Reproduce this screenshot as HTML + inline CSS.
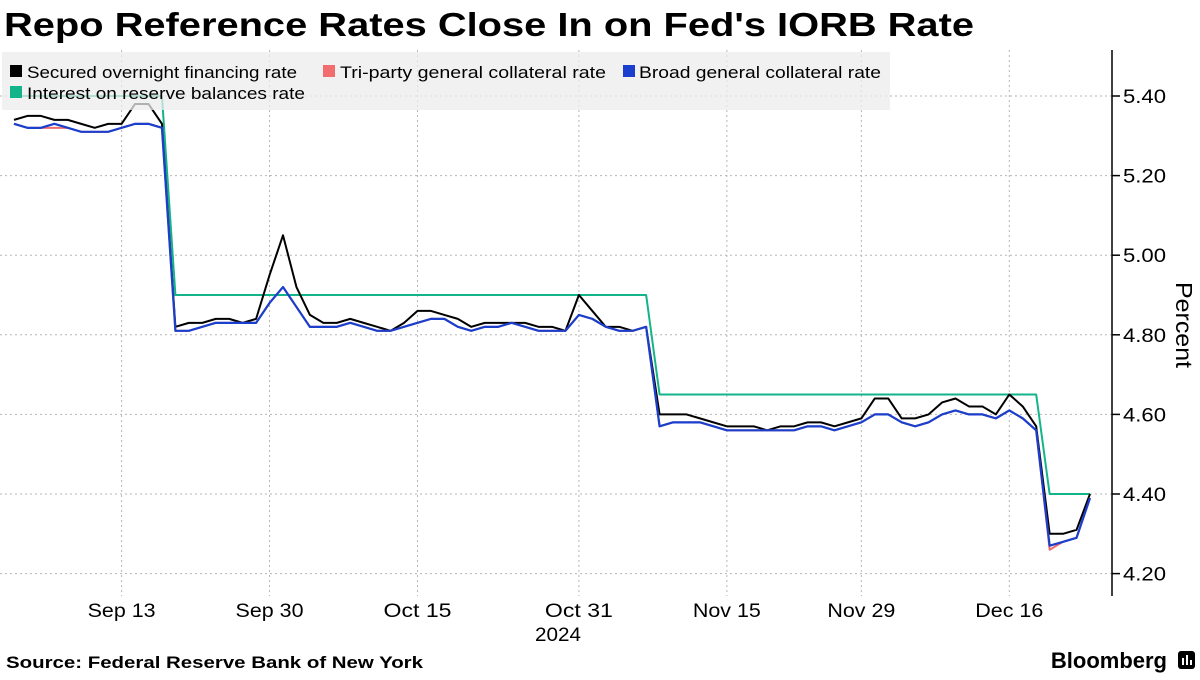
<!DOCTYPE html>
<html><head><meta charset="utf-8"><style>
body{margin:0;background:#fff;}
svg text{font-family:"Liberation Sans",sans-serif;}
</style></head><body>
<svg width="1200" height="675" xmlns="http://www.w3.org/2000/svg" id="chart">
<text x="4" y="36" font-size="33" font-weight="bold" fill="#000" textLength="970" lengthAdjust="spacingAndGlyphs">Repo Reference Rates Close In on Fed's IORB Rate</text>
<g id="grid"></g>
<g id="series"></g>
<rect x="2" y="52" width="888" height="58" fill="#ececec" fill-opacity="0.75"/>
<g font-size="17">
<g><rect x="10" y="65" width="12" height="12" fill="#000"/><text x="27" y="78" textLength="270" lengthAdjust="spacingAndGlyphs">Secured overnight financing rate</text></g>
<g><rect x="323" y="65" width="12" height="12" fill="#f26d6d"/><text x="340" y="78" textLength="266" lengthAdjust="spacingAndGlyphs">Tri-party general collateral rate</text></g>
<g><rect x="623" y="65" width="12" height="12" fill="#1a3fcc"/><text x="639" y="78" textLength="242" lengthAdjust="spacingAndGlyphs">Broad general collateral rate</text></g>
<g><rect x="10" y="86" width="12" height="12" fill="#13b48a"/><text x="27" y="99" textLength="278" lengthAdjust="spacingAndGlyphs">Interest on reserve balances rate</text></g>
</g>
<line x1="1112" y1="50" x2="1112" y2="596" stroke="#000" stroke-width="1.5"/>
<g id="yaxis"></g>
<g id="xaxis"></g>
<text x="558" y="641" font-size="19" text-anchor="middle" textLength="46" lengthAdjust="spacingAndGlyphs">2024</text>
<text transform="translate(1176,325) rotate(90)" font-size="23" text-anchor="middle" textLength="86" lengthAdjust="spacingAndGlyphs">Percent</text>
<text x="6" y="668" font-size="17" font-weight="bold" textLength="417" lengthAdjust="spacingAndGlyphs">Source: Federal Reserve Bank of New York</text>
<text x="1167" y="668" font-size="22" font-weight="bold" text-anchor="end">Bloomberg</text>
<g><rect x="1178" y="651" width="17" height="18" rx="3" fill="#000"/><rect x="1182" y="658" width="2" height="7" fill="#fff"/><rect x="1186" y="655" width="2" height="10" fill="#fff"/><rect x="1190" y="660" width="2" height="5" fill="#fff"/></g>
</svg>
<script>
const sofr=[5.34,5.35,5.35,5.34,5.34,5.33,5.32,5.33,5.33,5.38,5.38,5.33,4.82,4.83,4.83,4.84,4.84,4.83,4.84,4.95,5.05,4.92,4.85,4.83,4.83,4.84,4.83,4.82,4.81,4.83,4.86,4.86,4.85,4.84,4.82,4.83,4.83,4.83,4.83,4.82,4.82,4.81,4.90,4.86,4.82,4.82,4.81,4.82,4.60,4.60,4.60,4.59,4.58,4.57,4.57,4.57,4.56,4.57,4.57,4.58,4.58,4.57,4.58,4.59,4.64,4.64,4.59,4.59,4.60,4.63,4.64,4.62,4.62,4.60,4.65,4.62,4.57,4.30,4.30,4.31,4.40];
const broad=[5.33,5.32,5.32,5.33,5.32,5.31,5.31,5.31,5.32,5.33,5.33,5.32,4.81,4.81,4.82,4.83,4.83,4.83,4.83,4.88,4.92,4.87,4.82,4.82,4.82,4.83,4.82,4.81,4.81,4.82,4.83,4.84,4.84,4.82,4.81,4.82,4.82,4.83,4.82,4.81,4.81,4.81,4.85,4.84,4.82,4.81,4.81,4.82,4.57,4.58,4.58,4.58,4.57,4.56,4.56,4.56,4.56,4.56,4.56,4.57,4.57,4.56,4.57,4.58,4.60,4.60,4.58,4.57,4.58,4.60,4.61,4.60,4.60,4.59,4.61,4.59,4.56,4.27,4.28,4.29,4.39];
const triparty=[5.33,5.32,5.32,5.32,5.32,5.31,5.31,5.31,5.32,5.33,5.33,5.32,4.81,4.81,4.82,4.83,4.83,4.83,4.83,4.88,4.92,4.87,4.82,4.82,4.82,4.83,4.82,4.81,4.81,4.82,4.83,4.84,4.84,4.82,4.81,4.82,4.82,4.83,4.82,4.81,4.81,4.81,4.85,4.84,4.82,4.81,4.81,4.82,4.57,4.58,4.58,4.58,4.57,4.56,4.56,4.56,4.56,4.56,4.56,4.57,4.57,4.56,4.57,4.58,4.60,4.60,4.58,4.57,4.58,4.60,4.61,4.60,4.60,4.59,4.61,4.59,4.56,4.26,4.28,4.29,4.39];
const iorb=[5.40,5.40,5.40,5.40,5.40,5.40,5.40,5.40,5.40,5.40,5.40,5.40,4.90,4.90,4.90,4.90,4.90,4.90,4.90,4.90,4.90,4.90,4.90,4.90,4.90,4.90,4.90,4.90,4.90,4.90,4.90,4.90,4.90,4.90,4.90,4.90,4.90,4.90,4.90,4.90,4.90,4.90,4.90,4.90,4.90,4.90,4.90,4.90,4.65,4.65,4.65,4.65,4.65,4.65,4.65,4.65,4.65,4.65,4.65,4.65,4.65,4.65,4.65,4.65,4.65,4.65,4.65,4.65,4.65,4.65,4.65,4.65,4.65,4.65,4.65,4.65,4.65,4.40,4.40,4.40,4.40];
const xTickIndex=[8,19,30,42,53,63,74];
const xTickLabels=["Sep 13","Sep 30","Oct 15","Oct 31","Nov 15","Nov 29","Dec 16"];
const yTicks=[4.2,4.4,4.6,4.8,5.0,5.2,5.4];

const NS="http://www.w3.org/2000/svg";
const xS=i=>14+i*13.45;
const yS=v=>96+(5.40-v)*398;
function mk(tag,attrs,parent){const e=document.createElementNS(NS,tag);for(const k in attrs)e.setAttribute(k,attrs[k]);parent.appendChild(e);return e;}
const grid=document.getElementById('grid'),ser=document.getElementById('series'),ya=document.getElementById('yaxis'),xa=document.getElementById('xaxis');
yTicks.forEach(t=>{
  const y=yS(t);
  const g=mk('line',{x1:0,x2:1112,y1:y,y2:y,stroke:'#b5b5b5','stroke-dasharray':'2,3','stroke-width':1},grid);
  
  
  const tk=mk('line',{x1:1112,x2:1120,y1:y,y2:y,stroke:'#000','stroke-width':1.5},ya);
  
  
  const tx=mk('text',{x:1123,y:y+7,'font-size':19,textLength:43,lengthAdjust:'spacingAndGlyphs'},ya);
  tx.textContent=t.toFixed(2);
  
  
});
xTickIndex.forEach((ix,k)=>{
  const x=xS(ix);
  const g=mk('line',{x1:x,x2:x,y1:50,y2:596,stroke:'#b5b5b5','stroke-dasharray':'2,3','stroke-width':1},grid);
  
  
  const tx=mk('text',{x:x-34,y:617,'font-size':19,textLength:68,lengthAdjust:'spacingAndGlyphs'},xa);
  tx.textContent=xTickLabels[k];
  
  
});
function line(data,color,name,w){
  const p=mk('polyline',{points:data.map((v,i)=>xS(i)+','+yS(v)).join(' '),fill:'none',stroke:color,'stroke-width':w,'stroke-linejoin':'round'},ser);
  
  
}
line(iorb,'#13b48a','iorb-line',2);
line(sofr,'#000','sofr-line',2);
line(triparty,'#f26d6d','tri-party-line',2);
line(broad,'#1a3fcc','broad-gc-line',2.2);
</script>
</body></html>
